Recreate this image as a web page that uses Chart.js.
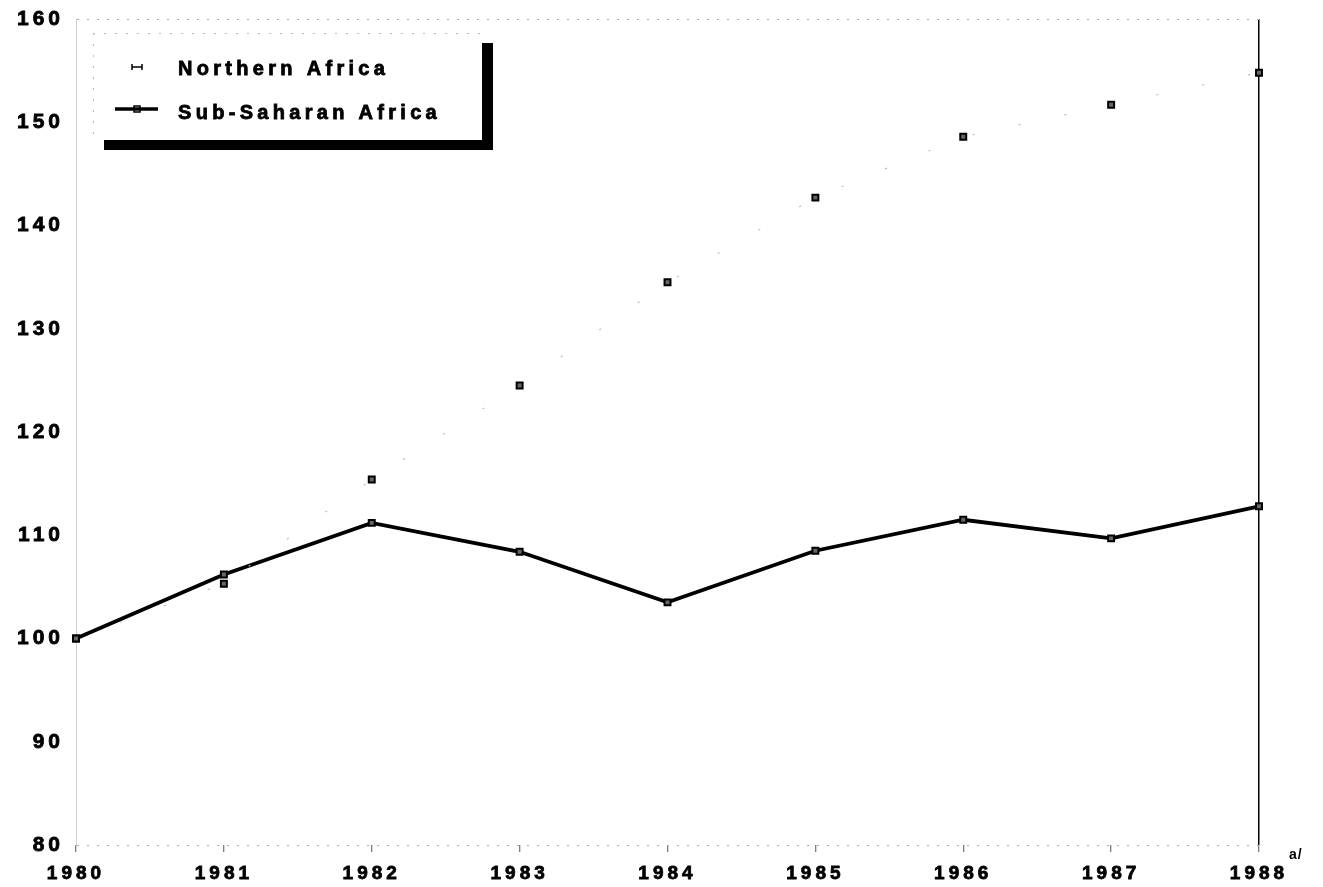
<!DOCTYPE html>
<html>
<head>
<meta charset="utf-8">
<script src="https://cdn.jsdelivr.net/npm/chart.js@4.4.0/dist/chart.umd.min.js"></script>
<style>
  html, body { margin: 0; padding: 0; background: #fff; }
  #wrap { width: 1323px; height: 887px; }
</style>
</head>
<body>
<div id="wrap"><canvas id="indexChart"></canvas></div>
<script>
// index, 1980 = 100
let years = ["1980", "1981", "1982", "1983", "1984", "1985", "1986", "1987", "1988"];
let northernAfrica = [100, 105.3, 115.4, 124.5, 134.5, 142.7, 148.6, 151.7, 154.8];
let subSaharanAfrica = [100, 106.2, 111.2, 108.4, 103.5, 108.5, 111.5, 109.7, 112.8];
let yTicks = [80, 90, 100, 110, 120, 130, 140, 150, 160];
let seriesNames = ["Northern Africa", "Sub-Saharan Africa"];
let footnoteMark = "a/";

let fontFamily = "'Liberation Sans', Arial, Helvetica, sans-serif";
let yFont = { family: fontFamily, size: 21, weight: "bold" };
let xFont = { family: fontFamily, size: 19, weight: "bold" };

// wide letter spacing like the original print
let spacing = {
  id: "spacing",
  beforeUpdate(chart) { chart.ctx.letterSpacing = "4px"; },
  beforeDraw(chart) { chart.ctx.letterSpacing = "4px"; }
};

let boxLegend = {
  id: "boxLegend",
  afterDraw(chart) {
    let ctx = chart.ctx;
    let left = chart.chartArea.left + 17;
    let top = chart.chartArea.top + 14;
    let w = 389, h = 107;
    ctx.save();
    // shadow + box
    ctx.fillStyle = "#000";
    ctx.fillRect(left + 11, top + 10, w, h);
    ctx.fillStyle = "#fff";
    ctx.fillRect(left, top, w, h);
    ctx.setLineDash([2, 9]);
    ctx.strokeStyle = "#bbb";
    ctx.lineWidth = 1;
    ctx.beginPath();
    ctx.moveTo(left, top + 0.5);
    ctx.lineTo(left + w, top + 0.5);
    ctx.moveTo(left + 0.5, top);
    ctx.lineTo(left + 0.5, top + h);
    ctx.stroke();
    ctx.setLineDash([]);

    ctx.font = "bold 20px " + fontFamily;
    ctx.letterSpacing = "4.3px";
    ctx.textBaseline = "middle";
    ctx.fillStyle = "#000";
    ctx.strokeStyle = "#000";
    chart.data.datasets.forEach((ds, i) => {
      let y = top + 36 + i * 44;
      let cx = left + 44;
      if (i === 0) {
        ctx.lineWidth = 1.5;
        ctx.beginPath();
        ctx.moveTo(cx - 5, y - 2);
        ctx.lineTo(cx + 5, y - 2);
        ctx.moveTo(cx - 5, y - 5);
        ctx.lineTo(cx - 5, y + 1);
        ctx.moveTo(cx + 5, y - 5);
        ctx.lineTo(cx + 5, y + 1);
        ctx.stroke();
      } else {
        ctx.lineWidth = 3.5;
        ctx.beginPath();
        ctx.moveTo(cx - 22, y - 4);
        ctx.lineTo(cx + 21, y - 4);
        ctx.stroke();
        ctx.lineWidth = 1.5;
        ctx.strokeRect(cx - 3, y - 7, 6, 6);
      }
      ctx.lineWidth = 0.8;
      ctx.fillText(ds.label, left + 85, y);
      ctx.strokeText(ds.label, left + 85, y);
    });
    ctx.restore();
  }
};

let footnote = {
  id: "footnote",
  afterDraw(chart) {
    let ctx = chart.ctx;
    let x = chart.scales.x.getPixelForValue(years.length - 1) + 30;
    ctx.save();
    ctx.font = "bold 14px " + fontFamily;
    ctx.letterSpacing = "1px";
    ctx.textBaseline = "top";
    ctx.textAlign = "left";
    ctx.fillStyle = "#000";
    ctx.fillText(footnoteMark, x, chart.chartArea.bottom + 3);
    ctx.restore();
  }
};

let indexChart = new Chart("indexChart", {
  type: "line",
  data: {
    labels: years,
    datasets: [{
      label: seriesNames[0],
      data: northernAfrica,
      borderColor: "#bbb",
      borderWidth: 1.2,
      borderDash: [2, 45],
      pointStyle: "rect",
      pointRadius: 4.2,
      pointBackgroundColor: "#666",
      pointBorderColor: "#000",
      pointBorderWidth: 2
    }, {
      label: seriesNames[1],
      data: subSaharanAfrica,
      borderColor: "#000",
      borderWidth: 3.8,
      pointStyle: "rect",
      pointRadius: 4.2,
      pointBackgroundColor: "#666",
      pointBorderColor: "#000",
      pointBorderWidth: 2
    }]
  },
  options: {
    responsive: true,
    maintainAspectRatio: false,
    animation: false,
    layout: { padding: { top: 19, right: 64, left: 0, bottom: 0 } },
    plugins: {
      legend: { display: false },
      tooltip: { enabled: false }
    },
    scales: {
      x: {
        type: "category",
        offset: false,
        grid: {
          color: (c) => c.index === years.length - 1 ? "#000" : "rgba(0,0,0,0)",
          lineWidth: 1.5,
          tickColor: "#555",
          tickLength: 7,
          tickWidth: 1
        },
        border: { display: false },
        ticks: {
          font: xFont, color: "#000", padding: 10, maxRotation: 0, autoSkip: false,
          textStrokeColor: "#000", textStrokeWidth: 0.8
        },
        afterFit(s) { s.height = 42; }
      },
      y: {
        min: 80,
        max: 160,
        afterBuildTicks(s) { s.ticks = yTicks.map(v => ({ value: v })); },
        grid: {
          color: (c) => c.tick && (c.tick.value === 160 || c.tick.value === 80) ? "#aaa" : "rgba(0,0,0,0)",
          drawTicks: false,
          lineWidth: 1
        },
        border: { display: true, color: "#d0d0d0", dash: [2, 8], width: 1 },
        ticks: {
          font: yFont, color: "#000", padding: 12,
          textStrokeColor: "#000", textStrokeWidth: 0.8
        },
        afterFit(s) {
          s.width = 76;
          s.paddingTop = 0;
          s.paddingBottom = 0;
        }
      }
    }
  },
  plugins: [spacing, boxLegend, footnote]
});
</script>
</body>
</html>
